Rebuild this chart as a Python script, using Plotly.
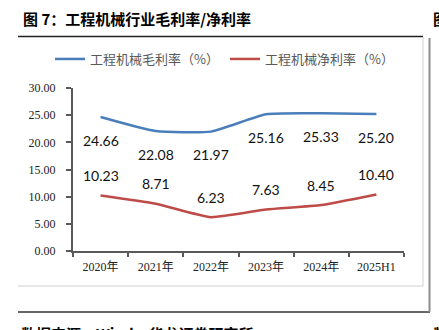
import plotly.graph_objects as go

years = ["2020年", "2021年", "2022年", "2023年", "2024年", "2025H1"]
gross_margin = [24.66, 22.08, 21.97, 25.16, 25.33, 25.20]
net_margin = [10.23, 8.71, 6.23, 7.63, 8.45, 10.40]
y_ticks = [0, 5, 10, 15, 20, 25, 30]
y_tick_labels = ["%.2f" % v for v in y_ticks]

W, H = 439, 330
L, R, T, B = 73, 35, 88, 79
PW, PH = W - L - R, H - T - B


def px(x):
    return (x - L) / PW


def py(y):
    return (H - B - y) / PH


BLUE = "#4A7EBB"
RED = "#BE4B48"

fig = go.Figure()
fig.add_trace(go.Scatter(
    x=years, y=gross_margin, mode="lines", name="工程机械毛利率（%）", legend="legend",
    line=dict(color=BLUE, width=2.5, shape="spline", smoothing=0.5)))
fig.add_trace(go.Scatter(
    x=years, y=net_margin, mode="lines", name="工程机械净利率（%）", legend="legend2",
    line=dict(color=RED, width=2.5, shape="spline", smoothing=0.5)))

label_font = dict(family="Lato, Open Sans, sans-serif", size=14, color="#111111")
for xv, yv in zip(years, gross_margin):
    fig.add_annotation(x=xv, y=yv, text="%.2f" % yv, showarrow=False,
                       yshift=-23, font=label_font)
for xv, yv in zip(years, net_margin):
    fig.add_annotation(x=xv, y=yv, text="%.2f" % yv, showarrow=False,
                       yshift=20, font=label_font)

# title and footer
fig.add_annotation(xref="paper", yref="paper", x=px(21), y=py(18), xanchor="left",
                   yanchor="middle", showarrow=False,
                   text="<b>图 7：工程机械行业毛利率/净利率</b>",
                   font=dict(family="Noto Sans CJK SC", size=15, color="#000000"))
fig.add_annotation(xref="paper", yref="paper", x=px(431), y=py(18), xanchor="left",
                   yanchor="middle", showarrow=False, text="<b>图</b>",
                   font=dict(family="Noto Sans CJK SC", size=15, color="#000000"))
fig.add_annotation(xref="paper", yref="paper", x=px(19), y=py(321), xanchor="left",
                   yanchor="top", showarrow=False,
                   text="<b>数据来源：Wind，华龙证券研究所</b>",
                   font=dict(family="Noto Sans CJK SC", size=15, color="#000000"))
fig.add_annotation(xref="paper", yref="paper", x=px(431), y=py(321), xanchor="left",
                   yanchor="top", showarrow=False, text="<b>数</b>",
                   font=dict(family="Noto Sans CJK SC", size=15, color="#000000"))

shapes = [
    # title rule
    dict(type="line", x0=px(18), x1=px(423), y0=py(36.5), y1=py(36.5),
         line=dict(color="#222222", width=1.5)),
    # chart frame (light grey)
    dict(type="line", x0=px(18), x1=px(423), y0=py(286), y1=py(286),
         line=dict(color="#CFCFCF", width=1)),
    dict(type="line", x0=px(423), x1=px(423), y0=py(37), y1=py(286),
         line=dict(color="#CFCFCF", width=1)),
    # bottom rule
    dict(type="line", x0=px(18), x1=px(430), y0=py(312), y1=py(312),
         line=dict(color="#333333", width=1.5)),
    # right separator
    dict(type="line", x0=px(429.5), x1=px(429.5), y0=py(38), y1=py(312),
         line=dict(color="#8C8C8C", width=2)),
]
for s in shapes:
    s.update(xref="paper", yref="paper", layer="above")
fig.update_layout(shapes=shapes)

tick_font = dict(family="Liberation Serif, Noto Sans CJK SC", size=12, color="#222222")
fig.update_xaxes(type="category", range=[-0.5, 5.5], showline=True, linecolor="#595959",
                 linewidth=2, ticks="outside", ticklen=4, tickcolor="#595959", tickwidth=2,
                 tickson="boundaries", showgrid=False, zeroline=False, tickfont=tick_font,
                 ticklabelstandoff=4)
fig.update_yaxes(range=[0, 30], tickvals=y_ticks, ticktext=y_tick_labels, showline=True,
                 linecolor="#595959", linewidth=2, ticks="outside", ticklen=5,
                 tickcolor="#595959", tickwidth=2, showgrid=False, zeroline=False,
                 tickfont=tick_font, ticklabelstandoff=8)

legend_font = dict(family="Noto Sans CJK SC", size=13, color="#595959")
fig.update_layout(
    width=W, height=H, margin=dict(l=L, r=R, t=T, b=B),
    paper_bgcolor="white", plot_bgcolor="white",
    showlegend=True,
    legend=dict(orientation="h", x=px(50), y=py(59), xanchor="left", yanchor="middle",
                font=legend_font, bgcolor="rgba(0,0,0,0)", itemwidth=30),
    legend2=dict(orientation="h", x=px(225), y=py(59), xanchor="left", yanchor="middle",
                 font=legend_font, bgcolor="rgba(0,0,0,0)", itemwidth=30),
)

fig.write_html("out.html")
